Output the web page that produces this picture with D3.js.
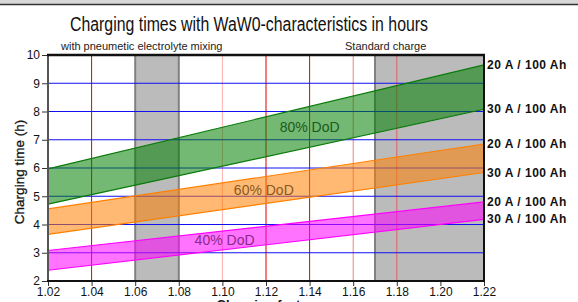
<!DOCTYPE html>
<html>
<head>
<meta charset="utf-8">
<script src="https://cdn.jsdelivr.net/npm/d3@7"></script>
<style>
  body { margin: 0; background: #fff; }
  svg { display: block; font-family: "Liberation Sans", Arial, sans-serif; }
</style>
</head>
<body>
<svg id="chart" width="578" height="302"></svg>
<script>
// chart values
const factorEnds = [1.02, 1.22];
const dodNames = ["80% DoD", "60% DoD", "40% DoD"];
const time20A = [[5.97, 9.65], [4.55, 6.85], [3.08, 4.80]];   // upper edge of each band
const time30A = [[4.72, 8.08], [3.65, 5.84], [2.38, 4.18]];   // lower edge of each band
const edgeNames = ["20 A / 100 Ah", "30 A / 100 Ah"];
const grayZones = [[1.06, 1.08], [1.17, 1.22]];
const redLines = [1.04, 1.10, 1.12, 1.14, 1.16, 1.18];
const xTicks = [1.02, 1.04, 1.06, 1.08, 1.10, 1.12, 1.14, 1.16, 1.18, 1.20, 1.22];
const yTicks = [2, 3, 4, 5, 6, 7, 8, 9, 10];
const labelAt = [1.140, 1.119, 1.101];   // where band names sit on x

// styles
const bandFill = ["#008000", "#ff7f00", "#ff00ff"];
const bandLine = ["#0a7a0a", "#ff8000", "#ff00ff"];
const bandText = ["#1d5a1d", "#8a5a22", "#8a2a8a"];
const redColor = ["#e00000", "#ffb0b0", "#e00000", "#e00000", "#f08080", "#e06060"];

const svg = d3.select("#chart");
const L = 48, R = 484, T = 55, B = 281;

const x = d3.scaleLinear().domain([1.02, 1.22]).range([L, R]);
const y = d3.scaleLinear().domain([2, 10]).range([B, T]);

// window strip at top
svg.append("rect").attr("x", 0).attr("y", 0).attr("width", 578).attr("height", 4).attr("fill", "#d8d8d8");
svg.append("line").attr("x1", 0).attr("x2", 578).attr("y1", 4.5).attr("y2", 4.5)
  .attr("stroke", "#333").attr("stroke-width", 1.5);

// title + notes
svg.append("text").attr("x", 249).attr("y", 31).attr("text-anchor", "middle")
  .attr("font-size", 20).attr("fill", "#111")
  .attr("textLength", 358).attr("lengthAdjust", "spacingAndGlyphs")
  .text("Charging times with WaW0-characteristics in hours");
svg.append("text").attr("x", 61).attr("y", 50).attr("font-size", 11).attr("fill", "#222")
  .text("with pneumetic electrolyte mixing");
svg.append("text").attr("x", 345).attr("y", 50).attr("font-size", 11).attr("fill", "#222")
  .text("Standard charge");

// gray zones
svg.append("g").selectAll("rect").data(grayZones).join("rect")
  .attr("x", d => x(d[0])).attr("y", T)
  .attr("width", d => x(d[1]) - x(d[0])).attr("height", B - T)
  .attr("fill", "#bbbbbb");
svg.append("g").selectAll("line").data([1.06, 1.08, 1.17]).join("line")
  .attr("x1", d => x(d)).attr("x2", d => x(d)).attr("y1", T).attr("y2", B)
  .attr("stroke", "#808080").attr("stroke-width", 2);

// grid
svg.append("g").selectAll("line").data(redLines).join("line")
  .attr("x1", d => x(d)).attr("x2", d => x(d)).attr("y1", T).attr("y2", B)
  .attr("stroke", (d, i) => redColor[i]).attr("stroke-width", 1);
svg.append("g").selectAll("line").data(yTicks.slice(1, -1)).join("line")
  .attr("x1", L).attr("x2", R).attr("y1", d => y(d)).attr("y2", d => y(d))
  .attr("stroke", "#1010f0").attr("stroke-width", 1);

// bands
const area = d3.area().x(d => x(d.f)).y0(d => y(d.lo)).y1(d => y(d.hi));
const edge = d3.line().x(d => x(d[0])).y(d => y(d[1]));
dodNames.forEach((name, i) => {
  const pts = factorEnds.map((f, j) => ({ f: f, lo: time30A[i][j], hi: time20A[i][j] }));
  svg.append("path").attr("d", area(pts)).attr("fill", bandFill[i]).attr("fill-opacity", 0.55);
  [time20A[i], time30A[i]].forEach(v => {
    svg.append("path").attr("d", edge(factorEnds.map((f, j) => [f, v[j]])))
      .attr("fill", "none").attr("stroke", bandLine[i]).attr("stroke-width", 1.2);
  });
  const f = labelAt[i];
  const t = (f - factorEnds[0]) / (factorEnds[1] - factorEnds[0]);
  const mid = (d3.interpolate(time20A[i][0], time20A[i][1])(t) + d3.interpolate(time30A[i][0], time30A[i][1])(t)) / 2;
  svg.append("text").attr("x", x(f)).attr("y", y(mid) + 5).attr("text-anchor", "middle")
    .attr("font-size", 14).attr("fill", bandText[i]).text(name);
  // right-hand edge labels
  [time20A[i][1], time30A[i][1]].forEach((v, k) => {
    svg.append("text").attr("x", R + 3).attr("y", y(v) + 4).attr("font-size", 12)
      .attr("letter-spacing", 0.5)
      .attr("font-weight", "bold").attr("fill", "#111").text(edgeNames[k]);
  });
});

// frame
svg.append("line").attr("x1", L).attr("x2", L).attr("y1", T).attr("y2", B).attr("stroke", "#555").attr("stroke-width", 2);
svg.append("line").attr("x1", R).attr("x2", R).attr("y1", T).attr("y2", B).attr("stroke", "#111").attr("stroke-width", 2);
svg.append("line").attr("x1", L - 1).attr("x2", R + 1).attr("y1", T).attr("y2", T).attr("stroke", "#111").attr("stroke-width", 2.5);
svg.append("line").attr("x1", L - 1).attr("x2", R + 1).attr("y1", B).attr("y2", B).attr("stroke", "#111").attr("stroke-width", 2);

// axes
const yAxis = svg.append("g").attr("transform", `translate(${L - 1},0)`)
  .call(d3.axisLeft(y).tickValues(yTicks).tickSize(5).tickPadding(2).tickFormat(d3.format("d")));
yAxis.select(".domain").remove();
yAxis.selectAll("text").attr("font-size", 12).attr("fill", "#111").attr("font-family", "'Liberation Sans', Arial");
yAxis.selectAll("line").attr("stroke", "#333");

const xAxis = svg.append("g").attr("transform", `translate(0,${B + 1})`)
  .call(d3.axisBottom(x).tickValues(xTicks).tickSize(4).tickPadding(1).tickFormat(d3.format(".2f")));
xAxis.select(".domain").remove();
xAxis.selectAll("text").attr("font-size", 12).attr("fill", "#111").attr("font-family", "'Liberation Sans', Arial");
xAxis.selectAll("line").attr("stroke", "#333");

svg.append("text").attr("transform", `translate(24,${(T + B) / 2 + 4}) rotate(-90)`)
  .attr("text-anchor", "middle").attr("font-size", 13.5).attr("fill", "#111")
  .attr("stroke", "#111").attr("stroke-width", 0.3)
  .text("Charging time (h)");
svg.append("text").attr("x", 265).attr("y", 309).attr("text-anchor", "middle")
  .attr("font-size", 13).attr("font-weight", "bold").attr("fill", "#111")
  .text("Charging factor");
</script>
</body>
</html>
